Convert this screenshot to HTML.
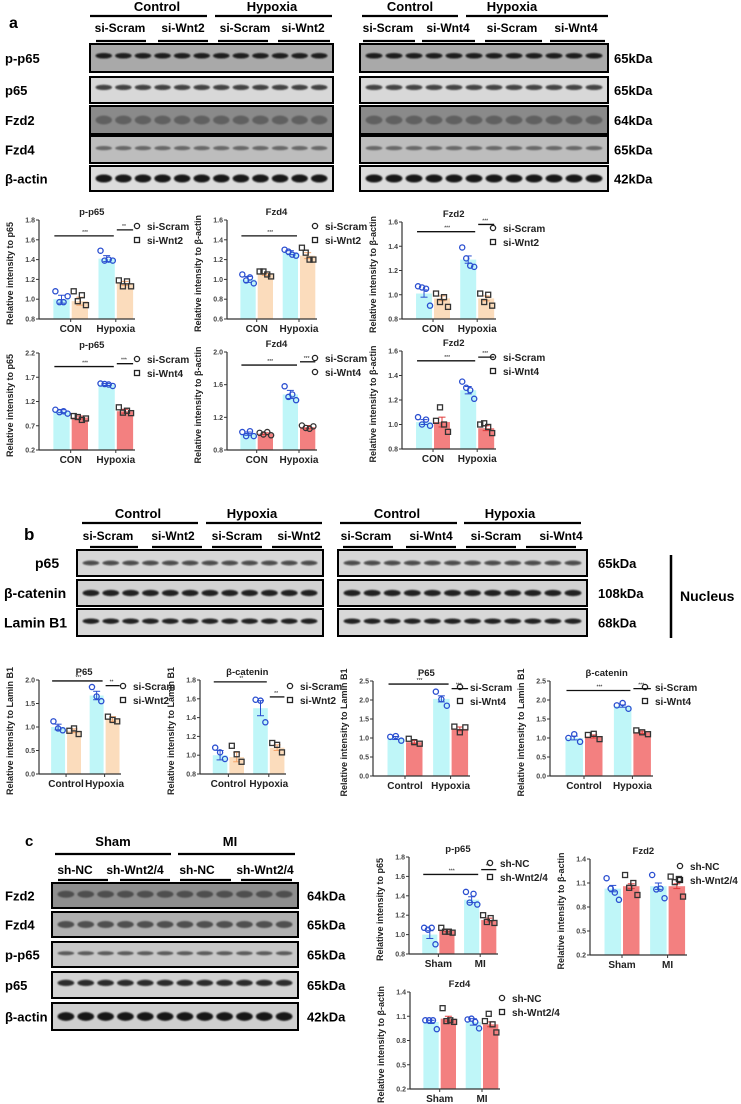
<!DOCTYPE html>
<html><head><meta charset="utf-8"><style>
body{margin:0;background:#fff;}
svg{display:block;font-family:"Liberation Sans",Arial,sans-serif;}
</style></head><body>
<svg id="fig" width="741" height="1104" viewBox="0 0 741 1104" xmlns="http://www.w3.org/2000/svg">
<defs><filter id="bl" x="-20%" y="-80%" width="140%" height="260%"><feGaussianBlur stdDeviation="0.8"/></filter></defs>
<g id="static" font-weight="bold" fill="#000">
 <text x="9" y="28" font-size="16">a</text>
 <text x="24" y="540" font-size="17">b</text>
 <text x="25" y="846" font-size="15">c</text>
 <text x="680" y="601" font-size="14">Nucleus</text>
 <line x1="671" y1="555" x2="671" y2="638" stroke="#000" stroke-width="2.5"/>
</g>
<g id="blots"></g>
<g id="charts"></g>
</svg>
<script>
const NS='http://www.w3.org/2000/svg';
function el(tag,attrs,parent,txt){const e=document.createElementNS(NS,tag);for(const k in attrs)e.setAttribute(k,attrs[k]);if(txt!==undefined)e.textContent=txt;parent.appendChild(e);return e;}
const B=document.getElementById('blots');
const C=document.getElementById('charts');

// ---- chart data ----
const xCatsA=['CON','Hypoxia'];
const xCatsB=['Control','Hypoxia'];
const xCatsC=['Sham','MI'];
const a1Means=[1.00,0.98,1.41,1.16];const a1Errs=[0.04,0.04,0.03,0.02];
const a1Points=[[1.08,0.97,0.97,1.03],[1.08,0.98,1.04,0.94],[1.49,1.39,1.40,1.39],[1.19,1.13,1.18,1.13]];
const a2Means=[1.00,1.05,1.27,1.24];const a2Errs=[0.03,0.01,0.02,0.03];
const a2Points=[[1.05,0.99,1.02,0.96],[1.08,1.08,1.05,1.03],[1.30,1.28,1.25,1.24],[1.32,1.27,1.20,1.20]];
const a3Means=[1.01,0.97,1.29,0.97];const a3Errs=[0.03,0.02,0.03,0.02];
const a3Points=[[1.07,1.06,1.05,0.91],[1.01,0.94,0.98,0.90],[1.39,1.30,1.24,1.23],[1.01,0.94,1.00,0.91]];
const a4Means=[1.00,0.87,1.55,1.00];const a4Errs=[0.03,0.03,0.02,0.04];
const a4Points=[[1.03,0.98,1.00,0.95],[0.90,0.88,0.82,0.85],[1.57,1.56,1.55,1.52],[1.08,0.97,1.01,0.96]];
const a5Means=[1.00,1.00,1.48,1.08];const a5Errs=[0.02,0.01,0.05,0.02];
const a5Points=[[1.02,0.97,1.03,0.97],[1.01,0.99,1.02,0.98],[1.58,1.45,1.48,1.41],[1.10,1.07,1.06,1.09]];
const a6Means=[1.02,1.02,1.28,0.97];const a6Errs=[0.02,0.04,0.03,0.02];
const a6Points=[[1.06,1.00,1.04,0.99],[1.03,1.14,1.00,0.94],[1.35,1.30,1.28,1.21],[1.00,1.01,0.98,0.93]];
const b1Means=[1.00,0.92,1.67,1.17];const b1Errs=[0.06,0.04,0.09,0.05];
const b1Points=[[1.12,0.97,0.93],[0.92,0.97,0.85],[1.85,1.65,1.55],[1.22,1.15,1.12]];
const b2Means=[1.00,0.98,1.50,1.08];const b2Errs=[0.05,0.05,0.08,0.03];
const b2Points=[[1.08,1.03,0.96],[1.10,1.01,0.93],[1.59,1.58,1.35],[1.13,1.11,1.03]];
const b3Means=[1.00,0.89,2.03,1.24];const b3Errs=[0.04,0.04,0.08,0.05];
const b3Points=[[1.03,1.05,0.93],[0.98,0.89,0.85],[2.22,2.02,1.85],[1.30,1.15,1.28]];
const b4Means=[1.00,1.04,1.84,1.15];const b4Errs=[0.05,0.04,0.03,0.03];
const b4Points=[[1.00,1.10,0.90],[1.08,1.11,0.97],[1.86,1.92,1.77],[1.20,1.15,1.10]];
const c1Means=[1.00,1.04,1.36,1.15];const c1Errs=[0.04,0.01,0.03,0.02];
const c1Points=[[1.07,1.05,1.07,0.90],[1.07,1.03,1.03,1.02],[1.44,1.33,1.42,1.31],[1.20,1.13,1.17,1.12]];
const c2Means=[1.03,1.06,1.06,1.06];const c2Errs=[0.04,0.03,0.04,0.03];
const c2Points=[[1.16,1.03,0.98,0.89],[1.20,1.04,1.10,0.95],[1.20,1.02,1.03,0.91],[1.18,1.11,1.15,0.93]];
const c3Means=[1.03,1.07,1.03,1.00];const c3Errs=[0.02,0.03,0.04,0.03];
const c3Points=[[1.05,1.05,1.05,0.94],[1.20,1.04,1.05,1.03],[1.06,1.07,1.03,0.95],[1.04,1.13,1.00,0.90]];

const CYAN='#bff6f8', ORANGE='#fbdcbc', RED='#f38080';
const ERR={[CYAN]:'#2a4ed0',[ORANGE]:'#f4a46a',[RED]:'#e03a3a'};

const charts=[
 {id:'a1',x:39,yT:220,yB:319,w:96,min:0.8,max:1.8,ticks:[0.8,1.0,1.2,1.4,1.6,1.8],dec:1,title:'p-p65',yl:'Relative intensity to p65',cats:xCatsA,leg:['si-Scram','si-Wnt2'],mk:['c','s'],col2:ORANGE,m:a1Means,e:a1Errs,p:a1Points,sig:[1.64,1.70],st:['***','**'],lx:137},
 {id:'a2',x:227,yT:220,yB:319,w:90,min:0.6,max:1.6,ticks:[0.6,0.8,1.0,1.2,1.4,1.6],dec:1,title:'Fzd4',yl:'Relative intensity to β-actin',cats:xCatsA,leg:['si-Scram','si-Wnt2'],mk:['c','s'],col2:ORANGE,m:a2Means,e:a2Errs,p:a2Points,sig:[1.44,null],st:['***',''],lx:315},
 {id:'a3',x:402,yT:222,yB:319,w:94,min:0.8,max:1.6,ticks:[0.8,1.0,1.2,1.4,1.6],dec:1,title:'Fzd2',yl:'Relative intensity to β-actin',cats:xCatsA,leg:['si-Scram','si-Wnt2'],mk:['c','s'],col2:ORANGE,m:a3Means,e:a3Errs,p:a3Points,sig:[1.52,1.58],st:['***','***'],lx:493},
 {id:'a4',x:39,yT:353,yB:450,w:96,min:0.2,max:2.2,ticks:[0.2,0.7,1.2,1.7,2.2],dec:1,title:'p-p65',yl:'Relative intensity to p65',cats:xCatsA,leg:['si-Scram','si-Wnt4'],mk:['c','s'],col2:RED,m:a4Means,e:a4Errs,p:a4Points,sig:[1.92,1.98],st:['***','***'],lx:137},
 {id:'a5',x:227,yT:352,yB:450,w:90,min:0.8,max:2.0,ticks:[0.8,1.2,1.6,2.0],dec:1,title:'Fzd4',yl:'Relative intensity to β-actin',cats:xCatsA,leg:['si-Scram','si-Wnt4'],mk:['c','c'],col2:RED,m:a5Means,e:a5Errs,p:a5Points,sig:[1.84,1.88],st:['***','***'],lx:315},
 {id:'a6',x:402,yT:351,yB:449,w:94,min:0.8,max:1.6,ticks:[0.8,1.0,1.2,1.4,1.6],dec:1,title:'Fzd2',yl:'Relative intensity to β-actin',cats:xCatsA,leg:['si-Scram','si-Wnt4'],mk:['c','s'],col2:RED,m:a6Means,e:a6Errs,p:a6Points,sig:[1.52,1.55],st:['***','***'],lx:493},
 {id:'b1',x:39,yT:680,yB:774,w:82,min:0,max:2.0,ticks:[0,0.5,1.0,1.5,2.0],dec:1,title:'P65',yl:'Relative intensity to Lamin B1',cats:xCatsB,leg:['si-Scram','si-Wnt2'],mk:['c','s'],col2:ORANGE,m:b1Means,e:b1Errs,p:b1Points,sig:[1.98,1.88],st:['***','**'],lx:123},
 {id:'b2',x:200,yT:680,yB:774,w:86,min:0.8,max:1.8,ticks:[0.8,1.0,1.2,1.4,1.6,1.8],dec:1,title:'β-catenin',yl:'Relative intensity to Lamin B1',cats:xCatsB,leg:['si-Scram','si-Wnt2'],mk:['c','s'],col2:ORANGE,m:b2Means,e:b2Errs,p:b2Points,sig:[1.78,1.62],st:['**','**'],lx:290},
 {id:'b3',x:373,yT:681,yB:776,w:97,min:0,max:2.5,ticks:[0,0.5,1.0,1.5,2.0,2.5],dec:1,title:'P65',yl:'Relative intensity to Lamin B1',cats:xCatsB,leg:['si-Scram','si-Wnt4'],mk:['c','s'],col2:RED,m:b3Means,e:b3Errs,p:b3Points,sig:[2.42,2.3],st:['***','***'],lx:460},
 {id:'b4',x:550,yT:681,yB:776,w:103,min:0,max:2.5,ticks:[0,0.5,1.0,1.5,2.0,2.5],dec:1,title:'β-catenin',yl:'Relative intensity to Lamin B1',cats:xCatsB,leg:['si-Scram','si-Wnt4'],mk:['c','s'],col2:RED,m:b4Means,e:b4Errs,p:b4Points,sig:[2.25,2.3],st:['***','***'],lx:645},
 {id:'c1',x:409,yT:857,yB:954,w:89,min:0.8,max:1.8,ticks:[0.8,1.0,1.2,1.4,1.6,1.8],dec:1,title:'p-p65',yl:'Relative intensity to p65',cats:xCatsC,leg:['sh-NC','sh-Wnt2/4'],mk:['c','s'],col2:RED,m:c1Means,e:c1Errs,p:c1Points,sig:[1.62,1.67],st:['***','**'],lx:490},
 {id:'c2',x:590,yT:859,yB:955,w:97,min:0.2,max:1.4,ticks:[0.2,0.5,0.8,1.1,1.4],dec:1,title:'Fzd2',yl:'Relative intensity to β-actin',cats:xCatsC,leg:['sh-NC','sh-Wnt2/4'],mk:['c','s'],col2:RED,m:c2Means,e:c2Errs,p:c2Points,sig:[null,null],st:['',''],lx:680,ly:866},
 {id:'c3',x:410,yT:992,yB:1089,w:90,min:0.2,max:1.4,ticks:[0.2,0.5,0.8,1.1,1.4],dec:1,title:'Fzd4',yl:'Relative intensity to β-actin',cats:xCatsC,leg:['sh-NC','sh-Wnt2/4'],mk:['c','s'],col2:RED,m:c3Means,e:c3Errs,p:c3Points,sig:[null,null],st:['',''],lx:502}
];

function marker(g,type,x,y,col){
 if(type==='c'){const m=el('circle',{cx:x,cy:y,r:2.6,fill:'none',stroke:col,'stroke-width':1.3},g);}
 else{const m=el('rect',{x:x-2.5,y:y-2.5,width:5,height:5,fill:'none',stroke:col,'stroke-width':1.3},g);}
}
charts.forEach(c=>{
 const g=el('g',{},C);
 
 
 const ys=v=>c.yB-(v-c.min)/(c.max-c.min)*(c.yB-c.yT);
 const bw=c.w*0.17, gc=[c.x+c.w*0.33,c.x+c.w*0.8];
 const bx=i=>gc[Math.floor(i/2)]+(i%2===0?-bw-1:1);
 const cols=[CYAN,c.col2,CYAN,c.col2];
 c.m.forEach((v,i)=>{
  const r=el('rect',{x:bx(i),y:ys(v),width:bw,height:c.yB-ys(v),fill:cols[i]},g);
  
  
  const cx=bx(i)+bw/2, ec=ERR[cols[i]];
  el('line',{x1:cx,x2:cx,y1:ys(v-c.e[i]),y2:ys(v+c.e[i]),stroke:ec,'stroke-width':1},g);
  el('line',{x1:cx-3.5,x2:cx+3.5,y1:ys(v+c.e[i]),y2:ys(v+c.e[i]),stroke:ec,'stroke-width':1},g);
  el('line',{x1:cx-3.5,x2:cx+3.5,y1:ys(v-c.e[i]),y2:ys(v-c.e[i]),stroke:ec,'stroke-width':1},g);
  const n=c.p[i].length;
  c.p[i].forEach((pv,j)=>{marker(g,i%2===0?c.mk[0]:c.mk[1],cx+(j-(n-1)/2)*(bw/(n)),ys(pv),i%2===0?'#2a4ed0':'#333');});
 });
 el('line',{x1:c.x,x2:c.x,y1:c.yT,y2:c.yB,stroke:'#333','stroke-width':1.2},g);
 el('line',{x1:c.x,x2:c.x+c.w,y1:c.yB,y2:c.yB,stroke:'#333','stroke-width':1.2},g);
 gc.forEach(x=>el('line',{x1:x,x2:x,y1:c.yB,y2:c.yB+3,stroke:'#333'},g));
 c.ticks.forEach(t=>{
  el('line',{x1:c.x-3,x2:c.x,y1:ys(t),y2:ys(t),stroke:'#333'},g);
  const tl=el('text',{x:c.x-4,y:ys(t)+2.5,'font-size':7,'text-anchor':'end','font-weight':'bold',fill:'#444'},g,t.toFixed(c.dec));
  
  
 });
 c.cats.forEach((k,i)=>{const t=el('text',{x:gc[i],y:c.yB+13,'font-size':10,'text-anchor':'middle','font-weight':'bold',fill:'#222'},g,k);
  });
 const tt=el('text',{x:c.x+c.w*0.55,y:c.yT-5,'font-size':9.5,'text-anchor':'middle','font-weight':'bold',fill:'#222'},g,c.title);
 
 const yc=(c.yT+c.yB)/2+4;
 const yl=el('text',{x:c.x-26,y:yc,'font-size':9,'text-anchor':'middle','font-weight':'bold',fill:'#222',transform:`rotate(-90 ${c.x-26} ${yc})`},g,c.yl);
 
 if(c.sig[0]!==null){const y=ys(c.sig[0]);el('line',{x1:gc[0]-bw,x2:gc[1]-2,y1:y,y2:y,stroke:'#111','stroke-width':1.3},g);
  el('text',{x:(gc[0]+gc[1])/2-bw/2,y:y-2,'font-size':5,'text-anchor':'middle',fill:'#111'},g,c.st[0]);}
 if(c.sig[1]!==null){const y=ys(c.sig[1]);el('line',{x1:gc[1]+1,x2:gc[1]+bw+1,y1:y,y2:y,stroke:'#111','stroke-width':1.3},g);
  el('text',{x:gc[1]+bw/2,y:y-2,'font-size':5,'text-anchor':'middle',fill:'#111'},g,c.st[1]);}
 const ly=c.ly||c.yT+6;
 c.leg.forEach((s,i)=>{marker(g,c.mk[i],c.lx,ly+i*14,'#222');
  const t=el('text',{x:c.lx+10,y:ly+i*14+4,'font-size':10,'font-weight':'bold',fill:'#222'},g,s);
  });
});

// ---- blots ----
function txt(x,y,s,size,anchor,name){const t=el('text',{x:x,y:y,'font-size':size,'font-weight':'bold','text-anchor':anchor||'start',fill:'#000'},B,s);return t;}
function hline(x1,x2,y,w){el('line',{x1:x1,x2:x2,y1:y,y2:y,stroke:'#000','stroke-width':w||2.2},B);}
function blot(x,y,w,h,lanes,bg,dark,thick,cyf,name){
 const g=el('g',{},B);
 el('rect',{x:x,y:y,width:w,height:h,fill:bg},g);
 const gb=el('g',{filter:'url(#bl)'},g);const lw=(w-8)/lanes;
 for(let i=0;i<lanes;i++){el('ellipse',{cx:x+4+lw*(i+0.5),cy:y+h*cyf,rx:lw*0.42,ry:h*thick,fill:'#0a0a0a','fill-opacity':dark},gb);}
 el('rect',{x:x,y:y,width:w,height:h,fill:'none',stroke:'#000','stroke-width':2},g);
}
// section a
txt(157,11,'Control',13,'middle','header-control');txt(272,11,'Hypoxia',13,'middle','header-hypoxia');
hline(90,207,16);hline(215,332,16);
[['si-Scram',120],['si-Wnt2',183],['si-Scram',245],['si-Wnt2',303]].forEach(s=>txt(s[1],32,s[0],12,'middle','group-label'));
hline(96,146,41);hline(158,208,41);hline(218,268,41);hline(278,330,41);
txt(410,11,'Control',13,'middle','header-control');txt(512,11,'Hypoxia',13,'middle','header-hypoxia');
hline(362,458,16);hline(466,608,16);
[['si-Scram',388],['si-Wnt4',448],['si-Scram',512],['si-Wnt4',576]].forEach(s=>txt(s[1],32,s[0],12,'middle','group-label'));
hline(363,415,41);hline(422,475,41);hline(485,542,41);hline(550,605,41);
const aRows=[['p-p65',44,28,0.9,'#a9a9a9',0.1,0.42],['p65',77,26,0.75,'#d8d8d8',0.1,0.4],['Fzd2',106,28,0.3,'#8a8a8a',0.16,0.5],['Fzd4',136,27,0.45,'#bdbdbd',0.08,0.45],['β-actin',166,25,0.95,'#dcdcdc',0.16,0.5]];
const aK=['65kDa','65kDa','64kDa','65kDa','42kDa'];
aRows.forEach((r,i)=>{txt(5,r[1]+r[2]/2+5,r[0],13,'start','row-label-'+r[0]);
 blot(90,r[1],243,r[2],12,r[4],r[3],r[5],r[6],'blot-a-left-'+r[0]);blot(360,r[1],248,r[2],12,r[4],r[3],r[5],r[6],'blot-a-right-'+r[0]);
 txt(614,r[1]+r[2]/2+5,aK[i],13,'start','mw-label');});
// section b
txt(138,518,'Control',13,'middle','header-control');txt(252,518,'Hypoxia',13,'middle','header-hypoxia');
hline(82,198,523);hline(206,322,523);
[['si-Scram',108],['si-Wnt2',173],['si-Scram',237],['si-Wnt2',299]].forEach(s=>txt(s[1],540,s[0],12,'middle','group-label'));
hline(90,138,547);hline(152,202,547);hline(212,262,547);hline(272,322,547);
txt(397,518,'Control',13,'middle','header-control');txt(510,518,'Hypoxia',13,'middle','header-hypoxia');
hline(340,457,523);hline(464,581,523);
[['si-Scram',366],['si-Wnt4',431],['si-Scram',496],['si-Wnt4',561]].forEach(s=>txt(s[1],540,s[0],12,'middle','group-label'));
hline(343,393,547);hline(406,456,547);hline(466,516,547);hline(526,576,547);
const bRows=[['p65',550,26,0.7,'#d6d6d6',0.09,0.5,35],['β-catenin',580,26,0.9,'#d2d2d2',0.12,0.5,4],['Lamin B1',609,27,0.9,'#d8d8d8',0.1,0.45,4]];
const bK=['65kDa','108kDa','68kDa'];
bRows.forEach((r,i)=>{txt(r[7],r[1]+r[2]/2+5,r[0],14,'start','row-label-'+r[0]);
 blot(77,r[1],246,r[2],12,r[4],r[3],r[5],r[6],'blot-b-left-'+r[0]);blot(338,r[1],249,r[2],12,r[4],r[3],r[5],r[6],'blot-b-right-'+r[0]);
 txt(598,r[1]+r[2]/2+5,bK[i],13,'start','mw-label');});
// section c
txt(113,846,'Sham',13,'middle','header-sham');txt(230,846,'MI',13,'middle','header-mi');
hline(55,171,854);hline(178,295,854);
[['sh-NC',75],['sh-Wnt2/4',135],['sh-NC',197],['sh-Wnt2/4',265]].forEach(s=>txt(s[1],874,s[0],12,'middle','group-label'));
hline(58,108,880);hline(120,170,880);hline(180,231,880);hline(241,292,880);
const cRows=[['Fzd2',883,25,0.45,'#8e8e8e',0.14,0.45],['Fzd4',912,25,0.55,'#b0b0b0',0.14,0.5],['p-p65',942,25,0.55,'#c8c8c8',0.08,0.45],['p65',972,26,0.85,'#d2d2d2',0.12,0.42],['β-actin',1003,27,0.95,'#cfcfcf',0.16,0.5]];
const cK=['64kDa','65kDa','65kDa','65kDa','42kDa'];
cRows.forEach((r,i)=>{txt(5,r[1]+r[2]/2+5,r[0],13,'start','row-label-'+r[0]);
 blot(52,r[1],246,r[2],12,r[4],r[3],r[5],r[6],'blot-c-'+r[0]);
 txt(307,r[1]+r[2]/2+5,cK[i],13,'start','mw-label');});
</script>
</body></html>
